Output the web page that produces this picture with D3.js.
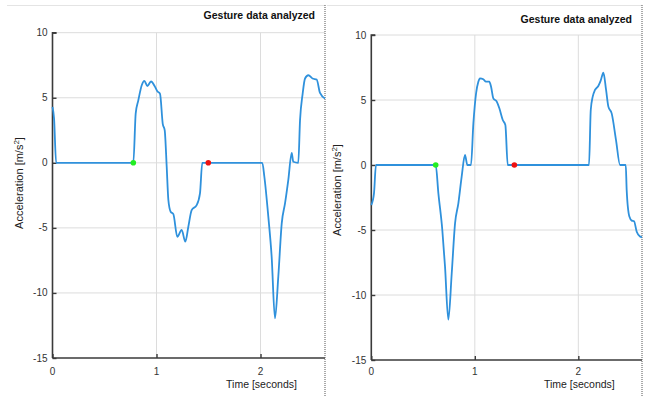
<!DOCTYPE html>
<html><head><meta charset="utf-8">
<script src="https://cdn.jsdelivr.net/npm/d3@7"></script>
<style>body{margin:0;background:#fff;}svg{display:block;font-family:"Liberation Sans",Arial,sans-serif;}</style>
</head><body>
<svg id="chart" width="654" height="396"></svg>
<script>
const title = "Gesture data analyzed";
const xLabel = "Time [seconds]";
const yTicks = [-15, -10, -5, 0, 5, 10];
const xTicks = [0, 1, 2];

const leftT = [0, 0.015, 0.035, 0.777, 0.80, 0.825, 0.858, 0.883, 0.912, 0.947, 0.986, 1.008, 1.034, 1.06, 1.079, 1.098, 1.114, 1.136, 1.162, 1.2, 1.242, 1.277, 1.306, 1.338, 1.386, 1.418, 1.44, 2.017, 2.037, 2.075, 2.107, 2.139, 2.171, 2.204, 2.236, 2.267, 2.3, 2.315, 2.363, 2.38, 2.405, 2.428, 2.46, 2.5, 2.54, 2.572, 2.62];
const leftV = [4.3, 3.4, 0, 0, 3.8, 4.8, 5.96, 6.3, 5.9, 6.25, 5.84, 5.5, 5.3, 3.0, 2.5, -0.3, -2.86, -3.76, -3.94, -5.68, -5.16, -6.06, -4.91, -3.63, -3.25, -2.35, 0, 0, -1.07, -4.14, -7.2, -11.95, -8.75, -4.65, -3.1, -1.33, 0.77, 0.08, 0, 3.28, 5.3, 6.48, 6.73, 6.48, 6.4, 5.37, 4.94];
const leftStart = [0.777, 0];
const leftEnd = [1.498, 0];

const rightT = [0, 0.026, 0.045, 0.622, 0.648, 0.686, 0.712, 0.744, 0.777, 0.809, 0.841, 0.873, 0.905, 0.928, 0.963, 0.986, 1.012, 1.034, 1.05, 1.082, 1.108, 1.14, 1.157, 1.179, 1.212, 1.237, 1.27, 1.295, 1.318, 2.103, 2.12, 2.139, 2.161, 2.193, 2.216, 2.242, 2.268, 2.29, 2.322, 2.364, 2.403, 2.458, 2.467, 2.493, 2.516, 2.538, 2.564, 2.596, 2.615];
const rightV = [-3.08, -2.18, 0, 0, -2.18, -5, -7.8, -11.9, -8.33, -4.49, -2.95, -0.9, 0.77, 0, 0, 3.2, 5.5, 6.4, 6.67, 6.59, 6.41, 6.41, 6.02, 5.13, 4.87, 4.36, 3.46, 3.08, 0, 0, 4.23, 5.26, 5.77, 6.08, 6.49, 7.1, 5.77, 4.49, 3.97, 1.92, 0, 0, -1.92, -3.97, -4.28, -4.33, -5.13, -5.5, -5.56];
const rightStart = [0.622, 0];
const rightEnd = [1.382, 0];

const svg = d3.select("#chart");

const panels = [
  {t: leftT, v: leftV, s: leftStart, e: leftEnd, xmax: 2.62, x0: 52.5, x1: 325, y0: 358, y1: 32.7, frameL: 7, titleY: 19, ylabY: 183},
  {t: rightT, v: rightV, s: rightStart, e: rightEnd, xmax: 2.615, x0: 371.3, x1: 642, y0: 360, y1: 35, frameL: 327, titleY: 23, ylabY: 190}
];

panels.forEach(p => {
  const x = d3.scaleLinear().domain([0, p.xmax]).range([p.x0, p.x1]);
  const y = d3.scaleLinear().domain([-15, 10]).range([p.y0, p.y1]);
  const g = svg.append("g");

  g.append("line").attr("x1", p.frameL).attr("x2", p.x1).attr("y1", 5.5).attr("y2", 5.5)
    .attr("stroke", "#e4e4e4").attr("stroke-width", 1);

  g.selectAll(".gy").data(yTicks.filter(d => d > -15)).enter().append("line")
    .attr("x1", p.x0).attr("x2", p.x1).attr("y1", d => y(d)).attr("y2", d => y(d))
    .attr("stroke", "#dcdcdc").attr("stroke-width", 1);
  g.selectAll(".gx").data(xTicks.filter(d => d > 0)).enter().append("line")
    .attr("x1", d => x(d)).attr("x2", d => x(d)).attr("y1", p.y1).attr("y2", p.y0)
    .attr("stroke", "#dcdcdc").attr("stroke-width", 1);

  const ya = d3.axisRight(y).tickValues(yTicks).tickSize(4).tickFormat("");
  g.append("g").attr("transform", `translate(${p.x0},0)`).call(ya)
    .call(s => { s.select(".domain").attr("stroke", "#3a3a3a").attr("stroke-width", 1.6).attr("d", `M4,${p.y1}H0V${p.y0}`); s.selectAll(".tick line").attr("stroke", "#3a3a3a").attr("stroke-width", 1.4); });
  const xa = d3.axisTop(x).tickValues(xTicks).tickSize(4).tickFormat("");
  g.append("g").attr("transform", `translate(0,${p.y0})`).call(xa)
    .call(s => { s.select(".domain").attr("stroke", "#3a3a3a").attr("stroke-width", 1.6).attr("d", `M${p.x0},0H${p.x1}`); s.selectAll(".tick line").attr("stroke", "#3a3a3a").attr("stroke-width", 1.4); });

  g.selectAll(".yl").data(yTicks).enter().append("text")
    .attr("x", p.x0 - 5).attr("y", d => y(d) + 3.5).attr("text-anchor", "end")
    .attr("font-size", 10).attr("fill", "#333").text(d => d);
  g.selectAll(".xl").data(xTicks).enter().append("text")
    .attr("x", d => x(d)).attr("y", 375).attr("text-anchor", "middle")
    .attr("font-size", 10).attr("fill", "#333").text(d => d);

  g.append("line").attr("x1", p.x1).attr("x2", p.x1).attr("y1", 5).attr("y2", 396)
    .attr("stroke", "#555").attr("stroke-width", 1).attr("stroke-dasharray", "1,1");

  g.append("text").attr("x", p.x1 - 10).attr("y", p.titleY).attr("text-anchor", "end")
    .attr("font-size", 10.5).attr("font-weight", "bold").attr("fill", "#111").text(title);
  g.append("text").attr("x", x(2)).attr("y", 388).attr("text-anchor", "middle").attr("dx", 1)
    .attr("font-size", 10.5).attr("fill", "#222").text(xLabel);
  const yl = g.append("text").attr("transform", `translate(${p.x0 - 30},${p.ylabY}) rotate(-90)`)
    .attr("text-anchor", "middle").attr("font-size", 11).attr("fill", "#222");
  yl.append("tspan").text("Acceleration [m/s");
  yl.append("tspan").attr("font-size", 8).attr("dy", -4).text("2");
  yl.append("tspan").attr("dy", 4).text("]");

  const pts = p.t.map((t, i) => [t, p.v[i]]);
  g.append("path").datum(pts)
    .attr("d", d3.line().curve(d3.curveMonotoneX).x(d => x(d[0])).y(d => y(d[1])))
    .attr("fill", "none").attr("stroke", "#2f91dc").attr("stroke-width", 1.8).attr("stroke-linejoin", "round");

  g.append("circle").attr("cx", x(p.s[0])).attr("cy", y(p.s[1])).attr("r", 2.8).attr("fill", "#22ee22");
  g.append("circle").attr("cx", x(p.e[0])).attr("cy", y(p.e[1])).attr("r", 2.8).attr("fill", "#ee1111");
});
</script>
</body></html>
